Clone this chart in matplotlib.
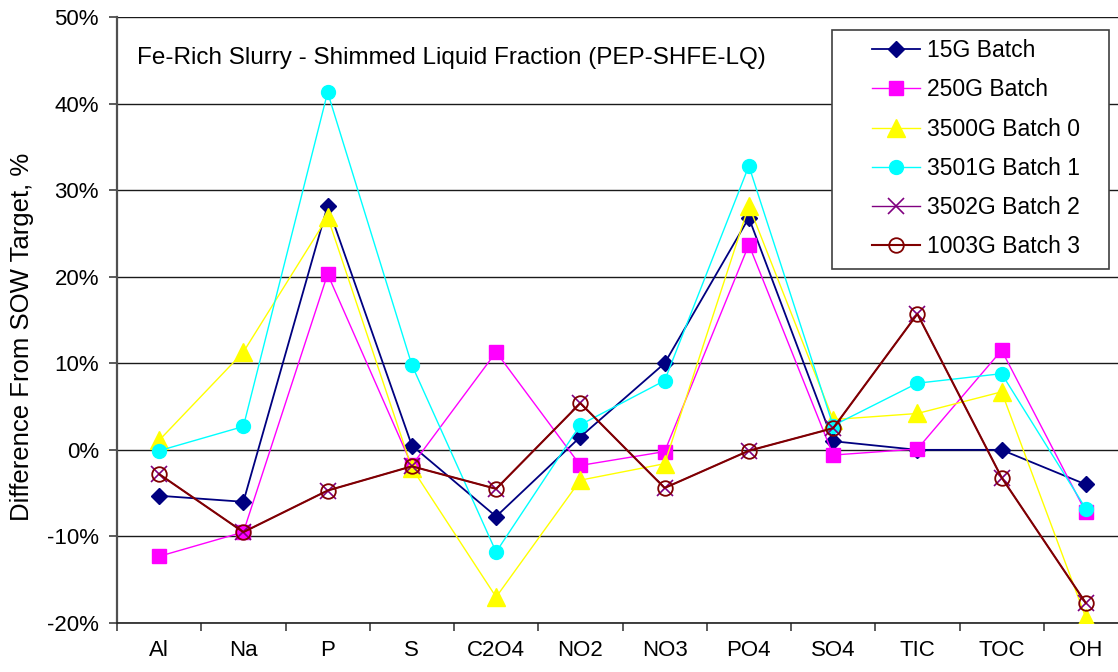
#!/usr/bin/env python3

'''
Fe-Rich Slurry - Shimmed Liquid Fraction (PEP-SHFE-LQ)
Difference from SOW target for each analyte, per batch.
'''
import matplotlib
matplotlib.use('Agg')
from matplotlib import pyplot as plt
from matplotlib.patches import Rectangle

plt.rcParams['font.family'] = ['Liberation Sans', 'DejaVu Sans']

analytes = ['Al', 'Na', 'P', 'S', 'C2O4', 'NO2', 'NO3', 'PO4', 'SO4', 'TIC', 'TOC', 'OH']

# percent difference from SOW target
batch_15g = [-5.3, -6.0, 28.2, 0.5, -7.7, 1.5, 10.0, 26.8, 1.0, 0.0, 0.0, -4.0]
batch_250g = [-12.3, -9.5, 20.3, -1.8, 11.3, -1.8, -0.2, 23.7, -0.6, 0.1, 11.5, -7.2]
batch_3500g_0 = [1.1, 11.3, 26.9, -2.1, -17.0, -3.5, -1.6, 28.2, 3.5, 4.2, 6.7, -19.4]
batch_3501g_1 = [-0.1, 2.7, 41.3, 9.8, -11.8, 2.9, 8.0, 32.8, 2.8, 7.7, 8.8, -6.8]
batch_3502g_2 = [-2.8, -9.5, -4.7, -1.9, -4.5, 5.4, -4.4, -0.1, 2.5, 15.7, -3.2, -17.7]
batch_1003g_3 = [-2.8, -9.5, -4.7, -1.9, -4.5, 5.4, -4.4, -0.1, 2.5, 15.7, -3.2, -17.7]

labels = ['15G Batch', '250G Batch', '3500G Batch 0', '3501G Batch 1',
          '3502G Batch 2', '1003G Batch 3']

y_ticks = [-20, -10, 0, 10, 20, 30, 40, 50]


def makePlot():
	W, H = 1118, 672
	fig = plt.figure(figsize=(W / 100, H / 100), dpi=100)
	# right edge of the plot runs past the picture, as in the original
	ax = fig.add_axes([117 / W, (H - 623) / H, (1128 - 117) / W, (623 - 17) / H])

	x = list(range(len(analytes)))

	ax.plot(x, batch_15g, color='#000080', lw=1.3, marker='D', ms=8.5,
	        mfc='#000080', mec='#000080', label=labels[0], zorder=3)
	ax.plot(x, batch_250g, color='#FF00FF', lw=1.0, marker='s', ms=10,
	        mfc='#FF00FF', mec='#FF00FF', label=labels[1], zorder=3)
	ax.plot(x, batch_3500g_0, color='#FFFF00', lw=1.0, marker='^', ms=12.5,
	        mfc='#FFFF00', mec='#FFFF00', label=labels[2], zorder=3)
	ax.plot(x, batch_3501g_1, color='#00FFFF', lw=1.0, marker='o', ms=10,
	        mfc='#00FFFF', mec='#00FFFF', label=labels[3], zorder=3)
	ax.plot(x, batch_3502g_2, color='#800080', lw=1.0, marker='x', ms=12,
	        mew=1.2, label=labels[4], zorder=3)
	ax.plot(x, batch_1003g_3, color='#800000', lw=1.5, marker='o', ms=10.5,
	        mfc='none', mec='#800000', mew=1.3, label=labels[5], zorder=3)

	ax.set_xlim(-0.5, len(analytes) - 0.5)
	ax.set_ylim(-20, 50)

	ax.set_yticks(y_ticks)
	ax.set_yticklabels([str(v) + '%' for v in y_ticks])
	ax.yaxis.grid(True, color='#1a1a1a', lw=1.0)
	ax.set_axisbelow(True)

	ax.set_xticks(x)
	ax.set_xticklabels(analytes)
	ax.set_xticks([i + 0.5 for i in range(-1, len(analytes))], minor=True)
	ax.tick_params(axis='x', which='major', length=0, pad=12, labelsize=16)
	ax.tick_params(axis='x', which='minor', length=6, width=1.2, color='#404040')
	ax.tick_params(axis='y', length=6, width=1.2, color='#404040', pad=7,
	               labelsize=16)

	for side in ['top', 'right']:
		ax.spines[side].set_visible(False)
	ax.spines['left'].set_color('#505050')
	ax.spines['left'].set_linewidth(1.6)
	ax.spines['bottom'].set_color('#202020')
	ax.spines['bottom'].set_linewidth(1.2)

	fig.text(22 / W, 1 - 337 / H, 'Difference From SOW Target, %', rotation=90,
	         ha='center', va='center', fontsize=18.5)
	fig.text(137 / W, 1 - 58 / H,
	         'Fe-Rich Slurry - Shimmed Liquid Fraction (PEP-SHFE-LQ)',
	         ha='left', va='center', fontsize=17.5)

	# legend box drawn separately so its padding matches the original
	box = Rectangle((832 / W, 1 - 269 / H), (1109 - 832) / W, (269 - 30) / H,
	                transform=fig.transFigure, facecolor='white',
	                edgecolor='#404040', lw=1.2, zorder=5, clip_on=False)
	ax.add_artist(box)
	leg = ax.legend(loc='upper left', bbox_to_anchor=(872 / W, 1 - 39 / H),
	                bbox_transform=fig.transFigure, frameon=False, fontsize=16.5,
	                handlelength=2.1, handletextpad=0.3, labelspacing=0.71,
	                borderaxespad=0, borderpad=0)
	leg.set_zorder(6)

	fig.savefig('out.png', dpi=100)


def main():
	makePlot()


if __name__ == '__main__':
	main()
